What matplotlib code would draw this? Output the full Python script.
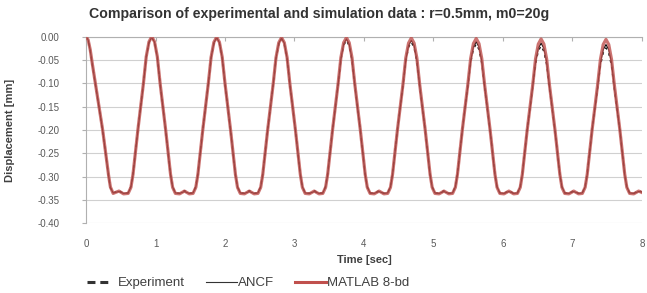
import numpy as np
import matplotlib
matplotlib.use("Agg")
import matplotlib.pyplot as plt

# time samples [sec] (start + one row per peak)
time_start = [0.000, 0.030, 0.060, 0.090, 0.134, 0.239, 0.300, 0.325, 0.350, 0.390, 0.473, 0.540]
time_cycles = [
    [0.606, 0.646, 0.676, 0.746, 0.826, 0.866, 0.906, 0.946, 0.986, 1.026, 1.066, 1.146, 1.216, 1.246, 1.286, 1.346, 1.416, 1.486],
    [1.540, 1.580, 1.610, 1.680, 1.760, 1.800, 1.840, 1.880, 1.920, 1.960, 2.000, 2.080, 2.150, 2.180, 2.220, 2.280, 2.350, 2.420],
    [2.474, 2.514, 2.544, 2.614, 2.694, 2.734, 2.774, 2.814, 2.854, 2.894, 2.934, 3.014, 3.084, 3.114, 3.154, 3.214, 3.284, 3.354],
    [3.408, 3.448, 3.478, 3.548, 3.628, 3.668, 3.708, 3.748, 3.788, 3.828, 3.868, 3.948, 4.018, 4.048, 4.088, 4.148, 4.218, 4.288],
    [4.342, 4.382, 4.412, 4.482, 4.562, 4.602, 4.642, 4.682, 4.722, 4.762, 4.802, 4.882, 4.952, 4.982, 5.022, 5.082, 5.152, 5.222],
    [5.276, 5.316, 5.346, 5.416, 5.496, 5.536, 5.576, 5.616, 5.656, 5.696, 5.736, 5.816, 5.886, 5.916, 5.956, 6.016, 6.086, 6.156],
    [6.210, 6.250, 6.280, 6.350, 6.430, 6.470, 6.510, 6.550, 6.590, 6.630, 6.670, 6.750, 6.820, 6.850, 6.890, 6.950, 7.020, 7.090],
    [7.144, 7.184, 7.214, 7.284, 7.364, 7.404, 7.444, 7.484, 7.524, 7.564, 7.604, 7.684, 7.754, 7.784, 7.824, 7.884, 7.954, 8.000],
]

# MATLAB 8-bd displacement [mm]
matlab_start = [0.000, -0.007, -0.028, -0.058, -0.100, -0.200, -0.270, -0.298, -0.322, -0.336, -0.331, -0.337]
matlab_cycles = [
    [-0.336, -0.323, -0.295, -0.200, -0.100, -0.043, -0.011, 0.000, -0.011, -0.043, -0.100, -0.200, -0.295, -0.323, -0.336, -0.337, -0.331, -0.337],
    [-0.336, -0.323, -0.295, -0.200, -0.100, -0.044, -0.012, -0.001, -0.012, -0.044, -0.100, -0.200, -0.295, -0.323, -0.336, -0.337, -0.331, -0.337],
    [-0.336, -0.323, -0.295, -0.200, -0.101, -0.045, -0.013, -0.002, -0.013, -0.045, -0.101, -0.200, -0.295, -0.323, -0.336, -0.337, -0.331, -0.337],
    [-0.336, -0.323, -0.295, -0.200, -0.101, -0.045, -0.013, -0.002, -0.013, -0.045, -0.101, -0.200, -0.295, -0.323, -0.336, -0.337, -0.331, -0.337],
    [-0.336, -0.323, -0.295, -0.200, -0.102, -0.046, -0.014, -0.003, -0.014, -0.046, -0.102, -0.200, -0.295, -0.323, -0.336, -0.337, -0.331, -0.337],
    [-0.336, -0.323, -0.295, -0.200, -0.102, -0.047, -0.015, -0.004, -0.015, -0.047, -0.102, -0.200, -0.295, -0.323, -0.336, -0.337, -0.331, -0.337],
    [-0.336, -0.323, -0.295, -0.200, -0.103, -0.048, -0.016, -0.005, -0.016, -0.048, -0.103, -0.200, -0.295, -0.323, -0.336, -0.337, -0.331, -0.337],
    [-0.336, -0.323, -0.295, -0.200, -0.103, -0.049, -0.017, -0.006, -0.017, -0.049, -0.103, -0.200, -0.295, -0.323, -0.336, -0.337, -0.331, -0.334],
]

# ANCF displacement [mm] (sits under the MATLAB curve)
ancf_start = [0.000, -0.007, -0.029, -0.059, -0.101, -0.201, -0.271, -0.299, -0.323, -0.335, -0.332, -0.336]
ancf_cycles = [
    [-0.335, -0.322, -0.296, -0.201, -0.101, -0.044, -0.012, -0.001, -0.012, -0.044, -0.101, -0.201, -0.296, -0.322, -0.335, -0.336, -0.332, -0.336],
    [-0.335, -0.322, -0.296, -0.201, -0.101, -0.045, -0.013, -0.002, -0.013, -0.045, -0.101, -0.201, -0.296, -0.322, -0.335, -0.336, -0.332, -0.336],
    [-0.335, -0.322, -0.296, -0.201, -0.102, -0.046, -0.014, -0.003, -0.014, -0.046, -0.102, -0.201, -0.296, -0.322, -0.335, -0.336, -0.332, -0.336],
    [-0.335, -0.322, -0.296, -0.201, -0.103, -0.048, -0.016, -0.005, -0.016, -0.048, -0.103, -0.201, -0.296, -0.322, -0.335, -0.336, -0.332, -0.336],
    [-0.335, -0.322, -0.296, -0.201, -0.104, -0.050, -0.019, -0.008, -0.019, -0.050, -0.104, -0.201, -0.296, -0.322, -0.335, -0.336, -0.332, -0.336],
    [-0.335, -0.322, -0.296, -0.201, -0.105, -0.052, -0.022, -0.011, -0.022, -0.052, -0.105, -0.201, -0.296, -0.322, -0.335, -0.336, -0.332, -0.336],
    [-0.335, -0.322, -0.296, -0.201, -0.106, -0.054, -0.025, -0.014, -0.025, -0.054, -0.106, -0.201, -0.296, -0.322, -0.335, -0.336, -0.332, -0.336],
    [-0.335, -0.322, -0.296, -0.201, -0.107, -0.056, -0.028, -0.017, -0.028, -0.056, -0.107, -0.201, -0.296, -0.322, -0.335, -0.336, -0.332, -0.333],
]

# Experiment displacement [mm], peaks drop a bit in later cycles
exp_start = [0.000, -0.008, -0.030, -0.060, -0.102, -0.202, -0.272, -0.300, -0.324, -0.335, -0.330, -0.336]
exp_cycles = [
    [-0.335, -0.321, -0.294, -0.199, -0.100, -0.044, -0.013, -0.002, -0.013, -0.044, -0.101, -0.201, -0.296, -0.322, -0.335, -0.336, -0.330, -0.336],
    [-0.335, -0.321, -0.294, -0.199, -0.101, -0.046, -0.015, -0.003, -0.015, -0.046, -0.102, -0.201, -0.296, -0.322, -0.335, -0.336, -0.330, -0.336],
    [-0.335, -0.321, -0.294, -0.199, -0.102, -0.048, -0.017, -0.005, -0.017, -0.048, -0.103, -0.201, -0.296, -0.322, -0.335, -0.336, -0.330, -0.336],
    [-0.335, -0.321, -0.294, -0.199, -0.103, -0.050, -0.019, -0.008, -0.020, -0.051, -0.104, -0.201, -0.296, -0.322, -0.335, -0.336, -0.330, -0.336],
    [-0.335, -0.321, -0.294, -0.199, -0.105, -0.053, -0.023, -0.012, -0.024, -0.054, -0.106, -0.201, -0.296, -0.322, -0.335, -0.336, -0.330, -0.336],
    [-0.335, -0.321, -0.294, -0.199, -0.106, -0.056, -0.027, -0.016, -0.028, -0.057, -0.108, -0.201, -0.296, -0.322, -0.335, -0.336, -0.330, -0.336],
    [-0.335, -0.321, -0.294, -0.199, -0.108, -0.059, -0.031, -0.020, -0.032, -0.060, -0.110, -0.201, -0.296, -0.322, -0.335, -0.336, -0.330, -0.336],
    [-0.335, -0.321, -0.294, -0.199, -0.110, -0.062, -0.035, -0.024, -0.036, -0.063, -0.112, -0.201, -0.296, -0.322, -0.335, -0.336, -0.330, -0.333],
]

x_ticks = [0, 1, 2, 3, 4, 5, 6, 7, 8]
y_ticks = [0.00, -0.05, -0.10, -0.15, -0.20, -0.25, -0.30, -0.35, -0.40]


def join(start, cycles):
    return np.array(start + [v for row in cycles for v in row])


t = join(time_start, time_cycles)
matlab = join(matlab_start, matlab_cycles)
ancf = join(ancf_start, ancf_cycles)
experiment = join(exp_start, exp_cycles)

plt.rcParams["font.family"] = ["Liberation Sans", "DejaVu Sans"]

fig = plt.figure(figsize=(6.47, 2.93), dpi=100)
ax = fig.add_axes([0.133, 0.238, 0.859, 0.637])

ax.plot(t, ancf, color="black", lw=0.8, zorder=2)
ax.plot(t, experiment, color="#1a1a1a", lw=1.0, dashes=(2, 3), zorder=2.5)
ax.plot(t, matlab, color="#C0504D", lw=2.3, alpha=0.8, zorder=3)

ax.set_xlim(0, 8)
ax.set_ylim(-0.40, 0.0)
ax.set_xticks(x_ticks)
ax.set_yticks(y_ticks)
ax.set_yticklabels([f"{v:.2f}" for v in y_ticks])
ax.grid(axis="y", color="#d0d0d0", lw=0.8)
ax.set_axisbelow(True)

for side in ["right", "bottom"]:
    ax.spines[side].set_visible(False)
ax.spines["top"].set_color("#b0b0b0")
ax.spines["left"].set_color("#b0b0b0")

ax.tick_params(axis="x", bottom=False, top=True, labelbottom=True, direction="in",
               length=3, color="#b0b0b0", pad=11, labelsize=7, labelcolor="#595959")
ax.tick_params(axis="y", direction="out", length=3, color="#b0b0b0", pad=16,
               labelsize=7, labelcolor="#595959")

ax.set_xlabel("Time [sec]", fontsize=8, fontweight="bold", color="#404040", labelpad=5)
ax.set_ylabel("Displacement [mm]", fontsize=8, fontweight="bold", color="#404040", labelpad=16)
fig.suptitle("Comparison of experimental and simulation data : r=0.5mm, m0=20g",
             x=0.493, y=0.975, fontsize=10.2, fontweight="bold", color="#333333")

handles = [
    plt.Line2D([], [], color="#333333", lw=2.2, dashes=(2.6, 1.6, 2.6, 4)),
    plt.Line2D([], [], color="#333333", lw=0.8),
    plt.Line2D([], [], color="#C0504D", lw=2.2),
]
fig.legend(handles, ["Experiment", "ANCF", "MATLAB 8-bd"], loc="center",
           bbox_to_anchor=(0.383, 0.034), ncol=3, frameon=False, fontsize=9.5,
           handlelength=2.3, handletextpad=0.1, columnspacing=1.6,
           labelcolor="#404040")

fig.savefig("out.png", dpi=100)
